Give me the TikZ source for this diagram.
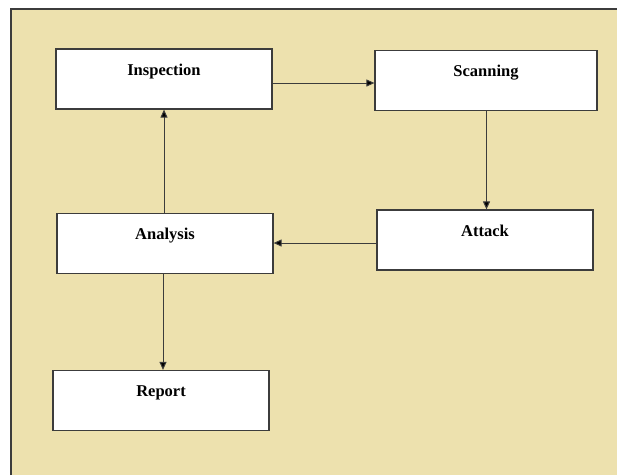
\documentclass[tikz,border=0pt]{standalone}
\usepackage{fontspec}
\setmainfont{Liberation Serif}
\usetikzlibrary{arrows.meta}
\definecolor{bgbeige}{RGB}{237,225,174}
\definecolor{edgegrey}{RGB}{60,60,60}
\tikzset{
  stepbox/.style={draw=edgegrey, fill=white, line width=1.2pt, minimum width=216pt,
    inner ysep=0pt, text height=26pt, text depth=34pt,
    font=\fontsize{16.5}{18}\selectfont\bfseries},
  flow/.style={draw=edgegrey, line width=1pt, -{Triangle[length=8pt,width=7pt,fill=black]}}
}
\begin{document}
\begin{tikzpicture}[x=1pt,y=-1pt]
\useasboundingbox (0,0) rectangle (617,475);
\fill[white] (0,0) rectangle (617,475);
\fill[bgbeige] (11,9) rectangle (617,475);
\draw[edgegrey, line width=1.2pt] (11,475) -- (11,9) -- (617,9);
\node[stepbox] (insp) at (164,79) {Inspection};
\node[stepbox, minimum width=222pt] (scan) at (486,80.5) {Scanning};
\node[stepbox] (att) at (485,240) {Attack};
\node[stepbox] (ana) at (165,243.5) {Analysis};
\node[stepbox] (rep) at (161,400.5) {Report};
\draw[flow] ([yshift=-4pt]insp.east) -- ([yshift=-2.5pt]scan.west);
\draw[flow] ([xshift=1.5pt]att.north |- scan.south) -- ([xshift=1.5pt]att.north);
\draw[flow] ([yshift=-3pt]att.west) -- ([yshift=0.5pt]ana.east);
\draw[flow] ([xshift=-1pt]ana.north) -- ([xshift=-1pt]ana.north |- insp.south);
\draw[flow] ([xshift=-2pt]ana.south) -- ([xshift=2pt]rep.north);
\end{tikzpicture}
\end{document}
